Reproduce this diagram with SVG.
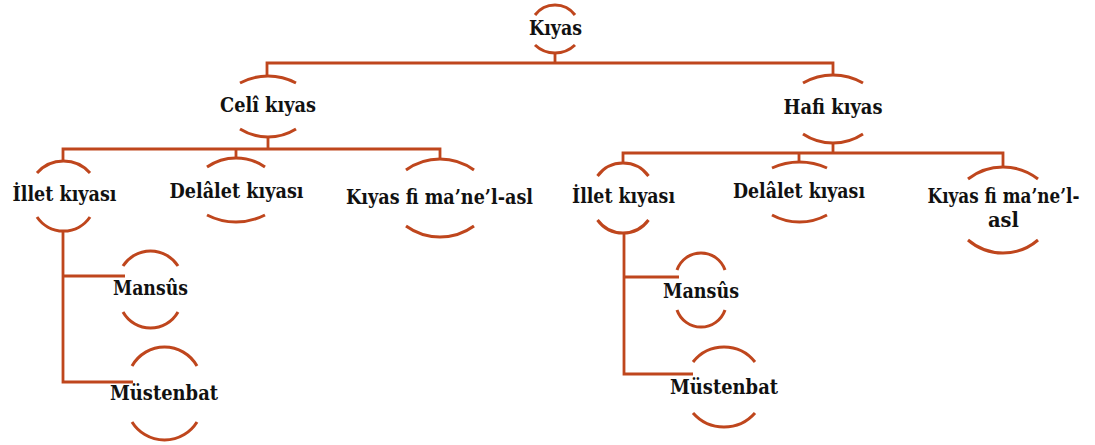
<svg xmlns="http://www.w3.org/2000/svg" width="1095" height="445" viewBox="0 0 1095 445">
<style>
.arc{fill:none;stroke:#BF461D;stroke-width:3;stroke-linecap:butt}
.con{fill:none;stroke:#BF461D;stroke-width:2.8;stroke-linejoin:miter}
.t{font-family:'DejaVu Serif',serif;font-weight:700;font-size:20px;fill:#111;text-anchor:middle}
</style>
<rect width="1095" height="445" fill="#fff"/>
<g id="connectors">
<path class="con" d="M555 53 V63 M267 76 V63 H833 V75"/>
<path class="con" d="M268 137 V149 M63 161 V149 H440 V159 M236 149 V158"/>
<path class="con" d="M833 143 V153 M623 163 V153 H1003 V168 M799 153 V163"/>
<path class="con" d="M63 231 V382 H133 M63 276 H125"/>
<path class="con" d="M624 233 V374 H693 M624 277 H679"/>
</g>
<g id="kiyas">
<path class="arc" d="M535 15 A25 25 0 0 1 575 15 M535 45 A29 29 0 0 0 575 45"/>
<text class="t" x="555.5" y="35" textLength="53" lengthAdjust="spacingAndGlyphs">Kıyas</text>
</g>
<g id="celi">
<path class="arc" d="M240 83 A59.5 59.5 0 0 1 296 83 M240 129 A53 53 0 0 0 296 129"/>
<text class="t" x="268" y="112" textLength="96" lengthAdjust="spacingAndGlyphs">Celî kıyas</text>
</g>
<g id="hafi">
<path class="arc" d="M803 83 A60 60 0 0 1 863 83 M803 134 A54.5 54.5 0 0 0 863 134"/>
<text class="t" x="833" y="114" textLength="99" lengthAdjust="spacingAndGlyphs">Hafi kıyas</text>
</g>
<g id="illet-l">
<path class="arc" d="M37 173 A35.3 35.3 0 0 1 90 173 M37 217 A32 32 0 0 0 90 217"/>
<text class="t" x="64.5" y="201" textLength="104" lengthAdjust="spacingAndGlyphs">İllet kıyası</text>
</g>
<g id="delalet-l">
<path class="arc" d="M207 167 A51 51 0 0 1 265 167 M207 215 A63.6 63.6 0 0 0 265 215"/>
<text class="t" x="236.5" y="198" textLength="134" lengthAdjust="spacingAndGlyphs">Delâlet kıyası</text>
</g>
<g id="maneasl-l">
<path class="arc" d="M406 170 A58 58 0 0 1 474 170 M406 226 A58 58 0 0 0 474 226"/>
<text class="t" x="439.5" y="204" textLength="187" lengthAdjust="spacingAndGlyphs">Kıyas fi ma’ne’l-asl</text>
</g>
<g id="illet-r">
<path class="arc" d="M597.5 176 A31.5 31.5 0 0 1 648.5 176 M597.5 220 A31.5 31.5 0 0 0 648.5 220"/>
<text class="t" x="623.5" y="203" textLength="103" lengthAdjust="spacingAndGlyphs">İllet kıyası</text>
</g>
<g id="delalet-r">
<path class="arc" d="M772 168 A66 66 0 0 1 827 168 M772 215 A57.5 57.5 0 0 0 827 215"/>
<text class="t" x="799" y="198" textLength="132" lengthAdjust="spacingAndGlyphs">Delâlet kıyası</text>
</g>
<g id="maneasl-r">
<path class="arc" d="M968 179 A57 57 0 0 1 1038 179 M968 240 A53.6 53.6 0 0 0 1038 240"/>
<text class="t" x="1003.5" y="203" textLength="152" lengthAdjust="spacingAndGlyphs">Kıyas fi ma’ne’l-</text>
<text class="t" x="1003.5" y="227" textLength="31" lengthAdjust="spacingAndGlyphs">asl</text>
</g>
<g id="mansus-l">
<path class="arc" d="M123 266 A32.7 32.7 0 0 1 178 266 M123 312 A31.6 31.6 0 0 0 178 312"/>
<text class="t" x="150.5" y="295" textLength="75" lengthAdjust="spacingAndGlyphs">Mansûs</text>
</g>
<g id="mustenbat-l">
<path class="arc" d="M132 366 A37.3 37.3 0 0 1 197 366 M132 422 A38.3 38.3 0 0 0 197 422"/>
<text class="t" x="164" y="400" textLength="108" lengthAdjust="spacingAndGlyphs">Müstenbat</text>
</g>
<g id="mansus-r">
<path class="arc" d="M677 270 A25.4 25.4 0 0 1 725 270 M677 310 A25.4 25.4 0 0 0 725 310"/>
<text class="t" x="701" y="298" textLength="76" lengthAdjust="spacingAndGlyphs">Mansûs</text>
</g>
<g id="mustenbat-r">
<path class="arc" d="M693 362 A39.5 39.5 0 0 1 755 362 M693 413 A41.3 41.3 0 0 0 755 413"/>
<text class="t" x="724" y="394" textLength="108" lengthAdjust="spacingAndGlyphs">Müstenbat</text>
</g>
</svg>
